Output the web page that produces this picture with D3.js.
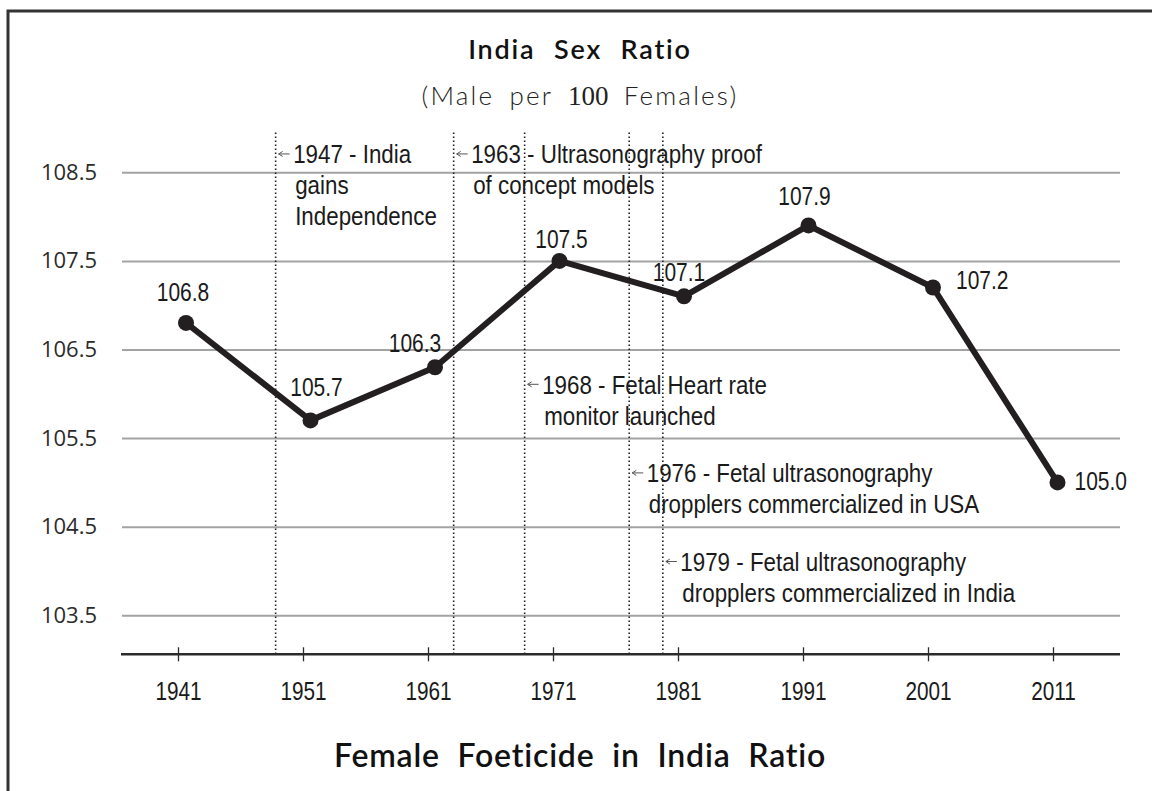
<!DOCTYPE html>
<html>
<head>
<meta charset="utf-8">
<script src="https://cdnjs.cloudflare.com/ajax/libs/d3/7.8.5/d3.min.js"></script>
<style>
  body { margin: 0; background: #fff; }
  svg { display: block; }
  .narrow { font-family: 'Liberation Sans', Arial, sans-serif; fill: #1a1a1a; }
</style>
</head>
<body>
<div id="chart"></div>
<script>
// census years and ratio (males per 100 females)
var years = [1941, 1951, 1961, 1971, 1981, 1991, 2001, 2011];
var ratio = [106.8, 105.7, 106.3, 107.5, 107.1, 107.9, 107.2, 105.0];
var yTicks = [103.5, 104.5, 105.5, 106.5, 107.5, 108.5];

// events marked with dotted lines (position, in years)
var eventYears = [1947, 1963, 1968, 1976, 1979];
var eventAt = [1948.2, 1962.5, 1968.2, 1976.6, 1979.3];
var eventTextY = [108.6, 108.6, 106.0, 105.0, 104.0];
var eventLines = [
  ["1947 - India", "gains", "Independence"],
  ["1963 - Ultrasonography proof", "of concept models"],
  ["1968 - Fetal Heart rate", "monitor launched"],
  ["1976 - Fetal ultrasonography", "dropplers commercialized in USA"],
  ["1979 - Fetal ultrasonography", "dropplers commercialized in India"]
];

var width = 1152, height = 791;
var left = 121, right = 1120;
var squeeze = 0.86; // no narrow font installed, so squeeze Liberation Sans

var svg = d3.select("#chart").append("svg")
  .attr("width", width)
  .attr("height", height);

// frame (right and bottom edges fall outside the picture)
svg.append("rect")
  .attr("x", 8).attr("y", 11)
  .attr("width", 1300).attr("height", 1000)
  .attr("fill", "none")
  .attr("stroke", "#333")
  .attr("stroke-width", 3);

var x = d3.scaleLinear().domain([1941, 2011]).range([186, 1057.5]);
var xTick = d3.scaleLinear().domain([1941, 2011]).range([178, 1053]);
var y = d3.scaleLinear().domain([103.5, 108.5]).range([615.3, 172.3]);
var axisValue = 103.06;

// grid + y labels
var yAxis = svg.append("g")
  .attr("transform", "translate(" + (left + 1) + ",0)")
  .call(d3.axisLeft(y).tickValues(yTicks).tickFormat(d3.format(".1f"))
    .tickSize(-(right - left - 1)).tickPadding(25));
yAxis.select(".domain").remove();
yAxis.selectAll(".tick line").attr("stroke", "#a3a3a3").attr("stroke-width", 2);
yAxis.selectAll(".tick text")
  .attr("font-family", "'Open Sans', sans-serif")
  .attr("font-size", "22px")
  .attr("fill", "#2b2b2b");

// event dotted lines
svg.selectAll(".evline")
  .data(eventAt)
  .enter().append("line")
  .attr("class", "evline")
  .attr("x1", function (d) { return x(d); })
  .attr("x2", function (d) { return x(d); })
  .attr("y1", y(108.95))
  .attr("y2", y(axisValue))
  .attr("stroke", "#222")
  .attr("stroke-width", 1.6)
  .attr("stroke-dasharray", "1.6,2.4");

// x axis
var xAxis = svg.append("g")
  .attr("transform", "translate(0," + y(axisValue) + ")")
  .call(d3.axisBottom(xTick).tickValues(years).tickFormat(d3.format("d"))
    .tickSize(7).tickPadding(21));
xAxis.select(".domain").remove();
xAxis.append("line")
  .attr("x1", left).attr("x2", right)
  .attr("stroke", "#2b2b2b").attr("stroke-width", 2.5);
xAxis.selectAll(".tick line").attr("y1", -7).attr("stroke", "#2b2b2b").attr("stroke-width", 1.3);
xAxis.selectAll(".tick text")
  .attr("class", "narrow")
  .attr("font-family", null)
  .attr("font-size", "25px")
  .attr("fill", "#1a1a1a")
  .attr("transform", "scale(0.83,1)");

// annotation texts
var ev = svg.selectAll(".ev")
  .data(eventLines)
  .enter().append("g")
  .attr("class", "ev")
  .attr("transform", function (d, i) { return "translate(" + x(eventAt[i]) + "," + y(eventTextY[i]) + ")"; });

ev.append("path")
  .attr("d", "M3,-9.5H14M3,-9.5l4,-2.5M3,-9.5l4,2.5")
  .attr("fill", "none")
  .attr("stroke", "#555")
  .attr("stroke-width", 1);

ev.selectAll("text")
  .data(function (d) { return d; })
  .enter().append("text")
  .attr("class", "narrow")
  .attr("transform", function (d, i) {
    return "translate(" + (i === 0 ? 17.5 : 19.5) + "," + (i * 31) + ") scale(" + squeeze + ",1)";
  })
  .attr("font-size", "26px")
  .text(function (d) { return d; });

// line
var line = d3.line()
  .x(function (d, i) { return x(years[i]); })
  .y(function (d) { return y(d); });

svg.append("path")
  .datum(ratio)
  .attr("d", line)
  .attr("fill", "none")
  .attr("stroke", "#231f20")
  .attr("stroke-width", 6)
  .attr("stroke-linejoin", "round");

svg.selectAll(".dot")
  .data(ratio)
  .enter().append("circle")
  .attr("class", "dot")
  .attr("cx", function (d, i) { return x(years[i]); })
  .attr("cy", function (d) { return y(d); })
  .attr("r", 8)
  .attr("fill", "#231f20");

// value labels: [dx, dy, anchor]
var labelPlace = [
  [-3, -22, "middle"], [6, -24, "middle"], [-20, -15, "middle"], [2, -13, "middle"],
  [-5, -15, "middle"], [-4, -20, "middle"], [23, 2, "start"], [17, 8, "start"]
];
svg.selectAll(".val")
  .data(ratio)
  .enter().append("text")
  .attr("class", "val narrow")
  .attr("transform", function (d, i) {
    return "translate(" + (x(years[i]) + labelPlace[i][0]) + "," + (y(d) + labelPlace[i][1]) + ") scale(0.84,1)";
  })
  .attr("text-anchor", function (d, i) { return labelPlace[i][2]; })
  .attr("font-size", "25px")
  .text(function (d) { return d3.format(".1f")(d); });

// titles
var cx = 580;
svg.append("text")
  .attr("x", cx).attr("y", 59)
  .attr("text-anchor", "middle")
  .attr("font-family", "Lato, sans-serif")
  .attr("font-weight", 600)
  .attr("font-size", "27px")
  .attr("letter-spacing", "1.8px")
  .attr("word-spacing", "10px")
  .attr("fill", "#111")
  .text("India Sex Ratio");

var sub = svg.append("text")
  .attr("x", cx).attr("y", 105)
  .attr("text-anchor", "middle")
  .attr("font-family", "Lato, sans-serif")
  .attr("font-weight", 300)
  .attr("font-size", "26px")
  .attr("letter-spacing", "2.2px")
  .attr("word-spacing", "6px")
  .attr("fill", "#222");
sub.append("tspan").text("(Male per ");
sub.append("tspan").attr("font-family", "'Liberation Serif', serif").attr("font-weight", 400)
  .attr("font-size", "27px").attr("letter-spacing", "0px").text("100");
sub.append("tspan").text("  Females)");

svg.append("text")
  .attr("x", cx).attr("y", 767)
  .attr("text-anchor", "middle")
  .attr("font-family", "Lato, sans-serif")
  .attr("font-weight", 600)
  .attr("font-size", "32px")
  .attr("letter-spacing", "0.8px")
  .attr("word-spacing", "9px")
  .attr("fill", "#111")
  .text("Female Foeticide in India Ratio");
</script>
</body>
</html>
